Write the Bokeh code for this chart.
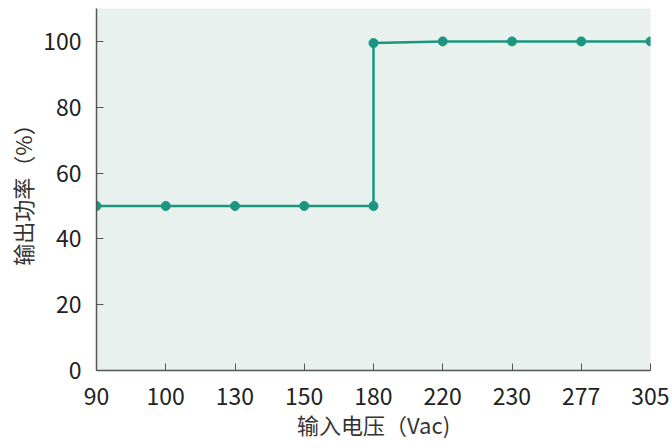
from bokeh.plotting import figure
from bokeh.models import FixedTicker, Range1d, ColumnDataSource
from bokeh.embed import file_html
from bokeh.resources import INLINE

categories = ["90", "100", "130", "150", "180", "220", "230", "277", "305"]
# x positions as category indices (180 appears twice: step)
point_cats = ["90", "100", "130", "150", "180", "180", "220", "230", "277", "305"]
power = [50, 50, 50, 50, 50, 99.5, 100, 100, 100, 100]

xs = [categories.index(c) for c in point_cats]
src = ColumnDataSource(dict(x=xs, y=power))

FONT = "Noto Sans CJK SC"
p = figure(width=670, height=446, output_backend="svg", toolbar_location=None,
           x_range=Range1d(0, len(categories) - 1), y_range=Range1d(0, 110),
           min_border_left=96, min_border_right=20, min_border_top=8, min_border_bottom=76)
p.background_fill_color = "#e8f1ed"
p.border_fill_color = "white"
p.outline_line_color = None
p.grid.visible = False

p.line("x", "y", source=src, line_color="#1b9680", line_width=2.5)
p.scatter("x", "y", source=src, size=9, fill_color="#1b9680", line_color="#1b9680")

p.xaxis.ticker = FixedTicker(ticks=list(range(len(categories))))
p.xaxis.major_label_overrides = {i: c for i, c in enumerate(categories)}
p.yaxis.ticker = FixedTicker(ticks=[0, 20, 40, 60, 80, 100])

for ax in (p.xaxis[0], p.yaxis[0]):
    ax.axis_line_color = "#555555"
    ax.axis_line_width = 1.5
    ax.major_tick_line_color = "#555555"
    ax.major_tick_in = 7
    ax.major_tick_out = 0
    ax.minor_tick_line_color = None
    ax.major_label_text_font = FONT
    ax.major_label_text_font_size = "23px"
    ax.major_label_text_color = "#222222"
    ax.axis_label_text_font = FONT
    ax.axis_label_text_font_size = "22px"
    ax.axis_label_text_font_style = "normal"
    ax.axis_label_text_color = "#333333"

p.xaxis.axis_label = "输入电压（Vac)"
p.yaxis.axis_label = "输出功率（%）"
p.xaxis.major_label_standoff = 17
p.yaxis.major_label_standoff = 15
p.xaxis.axis_label_standoff = 0
p.yaxis.axis_label_standoff = 2

open("out.html", "w").write(file_html(p, INLINE))
